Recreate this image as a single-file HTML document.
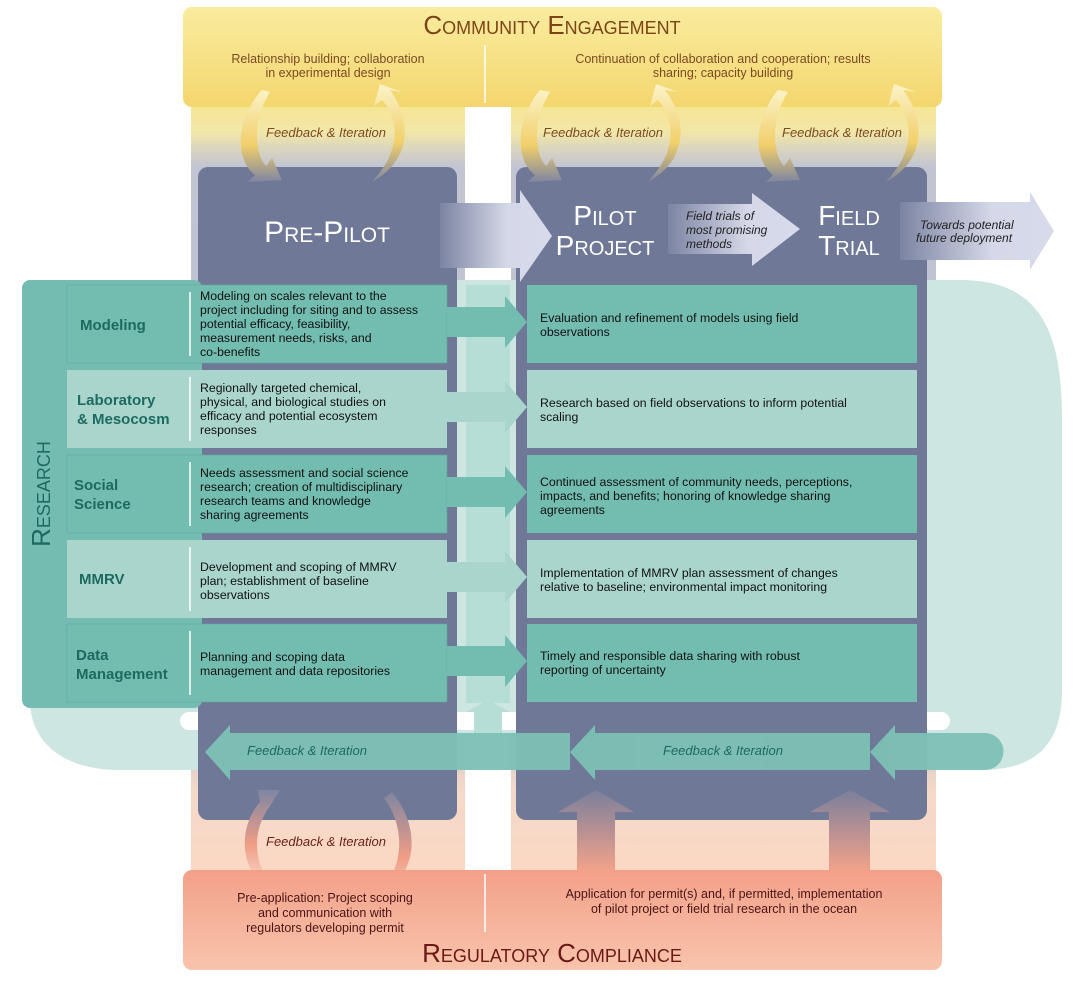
<!DOCTYPE html>
<html><head><meta charset="utf-8"><style>
html,body{margin:0;padding:0;background:#fff}
svg{display:block}
text{font-family:"Liberation Sans",sans-serif}
.sc{font-variant:small-caps}
.b{font-size:12.3px;fill:#111}
.lab{font-size:15px;fill:#1d6a60;font-weight:bold}
.fi{font-style:italic;font-size:13px}
</style></head><body>
<svg width="1080" height="981" viewBox="0 0 1080 981" xmlns="http://www.w3.org/2000/svg">
<defs>
<linearGradient id="ycol" x1="0" y1="0" x2="0" y2="1">
<stop offset="0" stop-color="#f6e58e"/><stop offset="0.04" stop-color="#f3e7a8"/><stop offset="0.085" stop-color="#c2c4d2"/><stop offset="1" stop-color="#b7bccd"/></linearGradient>
<linearGradient id="ytop" x1="0" y1="0" x2="0" y2="1">
<stop offset="0" stop-color="#f9ec9f"/><stop offset="1" stop-color="#f4d66e"/></linearGradient>
<linearGradient id="pbot" x1="0" y1="0" x2="0" y2="1">
<stop offset="0" stop-color="#f3a08a"/><stop offset="1" stop-color="#f8c4ab"/></linearGradient>
<linearGradient id="pcol" x1="0" y1="0" x2="0" y2="1">
<stop offset="0" stop-color="#b4b6c8"/><stop offset="0.5" stop-color="#f5d9c8"/><stop offset="1" stop-color="#fbd7c3"/></linearGradient>
<linearGradient id="arrH" x1="0" y1="0" x2="1" y2="0">
<stop offset="0" stop-color="#7c84a2"/><stop offset="0.6" stop-color="#d5d8e8"/><stop offset="1" stop-color="#d7daea"/></linearGradient>
<linearGradient id="upA" x1="0" y1="0" x2="0" y2="1">
<stop offset="0" stop-color="#7a7f9c"/><stop offset="1" stop-color="#f2a28a"/></linearGradient>
<linearGradient id="curY" x1="0" y1="0" x2="0" y2="1">
<stop offset="0" stop-color="#fbf3c8"/><stop offset="0.6" stop-color="#f1cf6a"/><stop offset="1" stop-color="#7e86a2"/></linearGradient>
<linearGradient id="curP" x1="0" y1="0" x2="0" y2="1">
<stop offset="0" stop-color="#7e86a2"/><stop offset="0.6" stop-color="#ef9d86"/><stop offset="1" stop-color="#f9d2c2"/></linearGradient>
</defs>

<rect x="191" y="100" width="274" height="780" fill="url(#ycol)"/>
<rect x="511" y="100" width="425" height="780" fill="url(#ycol)"/>
<rect x="191" y="700" width="274" height="180" fill="url(#pcol)"/>
<rect x="511" y="700" width="425" height="180" fill="url(#pcol)"/>

<path d="M200 280 H960 C1040 280 1062 330 1062 420 V690 C1062 750 1030 770 980 770 H120 C60 770 30 740 30 700 Z" fill="#cde6e1"/>
<rect x="180" y="712" width="770" height="18" rx="9" fill="#fff"/>

<rect x="198" y="167" width="259" height="653" rx="10" fill="#6f7897"/>
<rect x="516" y="167" width="411" height="653" rx="10" fill="#6f7897"/>

<rect x="183" y="7" width="759" height="100" rx="9" fill="url(#ytop)"/>
<text x="552" y="34" text-anchor="middle" class="sc" font-size="26" fill="#7b4518">Community Engagement</text>
<line x1="485" y1="45" x2="485" y2="103" stroke="#fff" stroke-width="1.5"/>
<text x="328" y="63" text-anchor="middle" font-size="12.5" fill="#7b4a22">Relationship building; collaboration</text>
<text x="328" y="77" text-anchor="middle" font-size="12.5" fill="#7b4a22">in experimental design</text>
<text x="723" y="63" text-anchor="middle" font-size="12.5" fill="#7b4a22">Continuation of collaboration and cooperation; results</text>
<text x="723" y="77" text-anchor="middle" font-size="12.5" fill="#7b4a22">sharing; capacity building</text>

<g fill="url(#curY)">
<path d="M262 90 C235 120 235 160 255 175 L248 182 L282 180 L272 158 L266 166 C252 150 255 115 270 92 Z"/>
<path d="M390 90 C412 120 412 160 372 182 L380 172 C398 150 400 120 382 100 L374 106 L380 84 L402 92 Z"/>
<path d="M540 90 C515 120 515 160 535 175 L528 182 L562 180 L552 158 L546 166 C532 150 535 115 550 92 Z"/>
<path d="M665 90 C688 120 688 160 648 182 L656 172 C674 150 676 120 658 100 L650 106 L656 84 L678 92 Z"/>
<path d="M778 90 C753 120 753 160 773 175 L766 182 L800 180 L790 158 L784 166 C770 150 773 115 788 92 Z"/>
<path d="M903 90 C926 120 926 160 886 182 L894 172 C912 150 914 120 896 100 L888 106 L894 84 L916 92 Z"/>
</g>
<text x="326" y="137" text-anchor="middle" class="fi" fill="#7b4a22">Feedback &amp; Iteration</text>
<text x="603" y="137" text-anchor="middle" class="fi" fill="#7b4a22">Feedback &amp; Iteration</text>
<text x="842" y="137" text-anchor="middle" class="fi" fill="#7b4a22">Feedback &amp; Iteration</text>

<path d="M440 203 H520 V190 L552 236 L520 282 V268 H440 Z" fill="url(#arrH)"/>
<path d="M668 204 H752 V193 L800 229 L752 266 V254 H668 Z" fill="url(#arrH)"/>
<path d="M900 202 H1030 V192 L1054 231 L1030 270 V260 H900 Z" fill="url(#arrH)"/>
<text x="327" y="242" text-anchor="middle" class="sc" font-size="30" fill="#fff">Pre-Pilot</text>
<text x="605" y="225" text-anchor="middle" class="sc" font-size="28" fill="#fff">Pilot</text>
<text x="605" y="255" text-anchor="middle" class="sc" font-size="28" fill="#fff">Project</text>
<text x="849" y="225" text-anchor="middle" class="sc" font-size="28" fill="#fff">Field</text>
<text x="849" y="255" text-anchor="middle" class="sc" font-size="28" fill="#fff">Trial</text>
<g font-size="12" font-style="italic" fill="#222">
<text x="686" y="220">Field trials of</text><text x="686" y="234">most promising</text><text x="686" y="248">methods</text>
<text x="920" y="229">Towards potential</text><text x="916" y="242">future deployment</text>
</g>

<rect x="22" y="280" width="180" height="428" rx="8" fill="#74bcb1"/>
<text transform="translate(50 494) rotate(-90)" text-anchor="middle" class="sc" font-size="26" fill="#1d6a60">Research</text>

<rect x="466" y="285" width="44" height="418" fill="#b6ddd6"/>
<path d="M474 735 V712 H466 L488 700 L510 712 H502 V735 Z" fill="#b6ddd6"/>

<g>
<rect x="67" y="285" width="380" height="78" fill="#72bcb0"/><rect x="527" y="285" width="390" height="78" fill="#72bcb0"/>
<rect x="67" y="370" width="380" height="78" fill="#a9d5cc"/><rect x="527" y="370" width="390" height="78" fill="#a9d5cc"/>
<rect x="67" y="455" width="380" height="78" fill="#72bcb0"/><rect x="527" y="455" width="390" height="78" fill="#72bcb0"/>
<rect x="67" y="540" width="380" height="78" fill="#a9d5cc"/><rect x="527" y="540" width="390" height="78" fill="#a9d5cc"/>
<rect x="67" y="624" width="380" height="78" fill="#72bcb0"/><rect x="527" y="624" width="390" height="78" fill="#72bcb0"/>
</g>
<g fill="none" stroke="#5fa89c" stroke-width="1" opacity="0.6">
<rect x="67" y="285" width="380" height="78"/><rect x="67" y="455" width="380" height="78"/><rect x="67" y="624" width="380" height="78"/>
</g>
<g fill="#72bcb0">
<path d="M447 307 H505 V296 L527 322 L505 348 V337 H447 Z"/>
<path d="M447 392 H505 V381 L527 407 L505 433 V422 H447 Z" fill="#a9d5cc"/>
<path d="M447 477 H505 V466 L527 492 L505 518 V507 H447 Z"/>
<path d="M447 562 H505 V551 L527 577 L505 603 V592 H447 Z" fill="#a9d5cc"/>
<path d="M447 646 H505 V635 L527 661 L505 687 V676 H447 Z"/>
</g>
<g stroke="#fff" stroke-width="1.5">
<line x1="190" y1="292" x2="190" y2="356"/><line x1="190" y1="377" x2="190" y2="441"/>
<line x1="190" y1="462" x2="190" y2="526"/><line x1="190" y1="547" x2="190" y2="611"/>
<line x1="190" y1="631" x2="190" y2="695"/>
</g>
<text x="80" y="330" class="lab">Modeling</text>
<text x="77" y="405" class="lab">Laboratory</text><text x="77" y="424" class="lab">&amp; Mesocosm</text>
<text x="74" y="490" class="lab">Social</text><text x="74" y="509" class="lab">Science</text>
<text x="79" y="584" class="lab">MMRV</text>
<text x="76" y="660" class="lab">Data</text><text x="76" y="679" class="lab">Management</text>

<g>
<text x="200" y="300" class="b">Modeling on scales relevant to the</text>
<text x="200" y="314" class="b">project including for siting and to assess</text>
<text x="200" y="328" class="b">potential efficacy, feasibility,</text>
<text x="200" y="342" class="b">measurement needs, risks, and</text>
<text x="200" y="356" class="b">co-benefits</text>
<text x="200" y="392" class="b">Regionally targeted chemical,</text>
<text x="200" y="406" class="b">physical, and biological studies on</text>
<text x="200" y="420" class="b">efficacy and potential ecosystem</text>
<text x="200" y="434" class="b">responses</text>
<text x="200" y="477" class="b">Needs assessment and social science</text>
<text x="200" y="491" class="b">research; creation of multidisciplinary</text>
<text x="200" y="505" class="b">research teams and knowledge</text>
<text x="200" y="519" class="b">sharing agreements</text>
<text x="200" y="571" class="b">Development and scoping of MMRV</text>
<text x="200" y="585" class="b">plan; establishment of baseline</text>
<text x="200" y="599" class="b">observations</text>
<text x="200" y="661" class="b">Planning and scoping data</text>
<text x="200" y="675" class="b">management and data repositories</text>

<text x="540" y="322" class="b">Evaluation and refinement of models using field</text>
<text x="540" y="336" class="b">observations</text>
<text x="540" y="407" class="b">Research based on field observations to inform potential</text>
<text x="540" y="421" class="b">scaling</text>
<text x="540" y="486" class="b">Continued assessment of community needs, perceptions,</text>
<text x="540" y="500" class="b">impacts, and benefits; honoring of knowledge sharing</text>
<text x="540" y="514" class="b">agreements</text>
<text x="540" y="577" class="b">Implementation of MMRV plan assessment of changes</text>
<text x="540" y="591" class="b">relative to baseline; environmental impact monitoring</text>
<text x="540" y="660" class="b">Timely and responsible data sharing with robust</text>
<text x="540" y="674" class="b">reporting of uncertainty</text>
</g>

<g fill="#7cc1b5" opacity="0.95">
<path d="M230 733 H570 V770 H230 V780 L205 752 L230 725 Z"/>
<path d="M595 733 H870 V770 H595 V780 L570 752 L595 725 Z"/>
<path d="M895 733 H985 A18.5 18.5 0 0 1 985 770 H895 V780 L870 752 L895 725 Z"/>
</g>
<text x="307" y="755" text-anchor="middle" class="fi" fill="#1d6a60">Feedback &amp; Iteration</text>
<text x="723" y="755" text-anchor="middle" class="fi" fill="#1d6a60">Feedback &amp; Iteration</text>

<path d="M577 870 V812 H558 L596 790 L634 812 H615 V870 Z" fill="url(#upA)"/>
<path d="M829 870 V812 H810 L850 790 L890 812 H870 V870 Z" fill="url(#upA)"/>

<g fill="url(#curP)">
<path d="M258 790 L280 790 L270 806 C252 830 254 860 268 880 L258 880 C240 860 240 825 260 802 Z"/>
<path d="M392 792 C415 820 418 855 400 878 L410 878 L385 900 L380 875 L390 878 C404 855 402 822 384 798 Z"/>
</g>
<text x="326" y="846" text-anchor="middle" class="fi" fill="#6b1e1e">Feedback &amp; Iteration</text>

<rect x="183" y="870" width="759" height="100" rx="9" fill="url(#pbot)"/>
<line x1="485" y1="874" x2="485" y2="932" stroke="#fff" stroke-width="1.5"/>
<g font-size="12.5" fill="#4a1515" text-anchor="middle">
<text x="325" y="902">Pre-application: Project scoping</text>
<text x="325" y="917">and communication with</text>
<text x="325" y="932">regulators developing permit</text>
<text x="724" y="898">Application for permit(s) and, if permitted, implementation</text>
<text x="724" y="913">of pilot project or field trial research in the ocean</text>
</g>
<text x="552" y="962" text-anchor="middle" class="sc" font-size="26" fill="#6b1818">Regulatory Compliance</text>
</svg>
</body></html>
